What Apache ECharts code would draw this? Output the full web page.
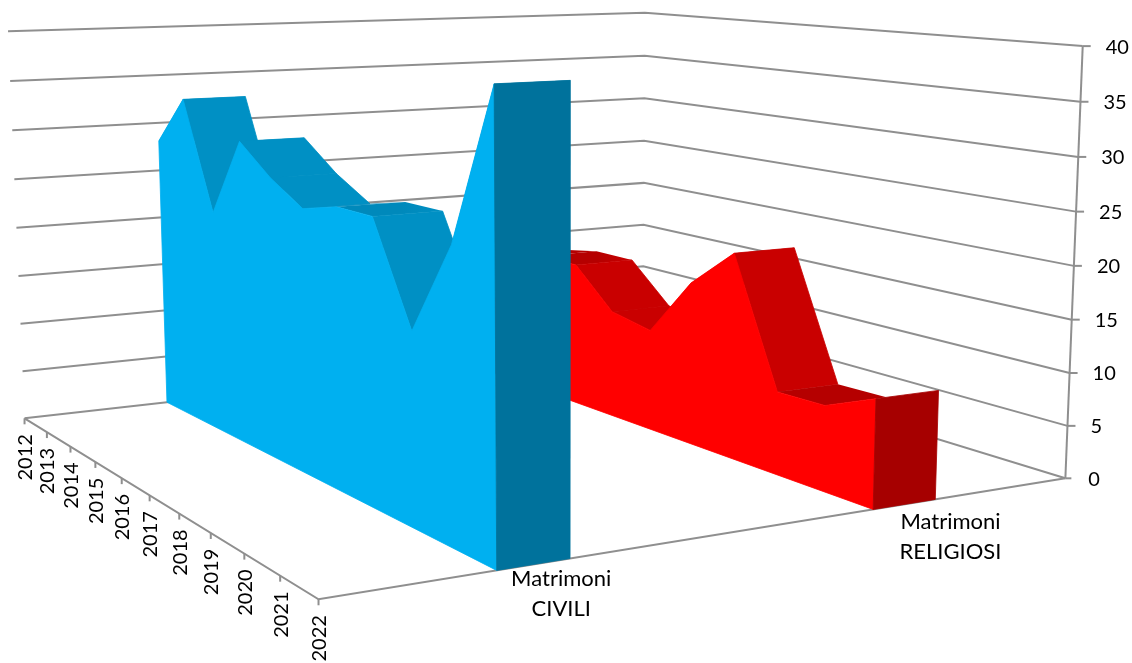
<!DOCTYPE html>
<html><head><meta charset="utf-8"><style>html,body{margin:0;padding:0;background:#fff}#c{width:1132px;height:663px}</style>
<script src="https://cdn.jsdelivr.net/npm/echarts@6/dist/echarts.min.js"></script></head>
<body><div id="c"></div>
<script>
const years = ['2012','2013','2014','2015','2016','2017','2018','2019','2020','2021','2022'];
const civili = [28.1,33.0,22.2,30.0,27.2,25.1,26.1,26.1,17.2,25.5,39.0];
const religiosi = [14.0,14.1,14.9,14.9,11.0,10.2,16.1,20.0,7.9,8.0,10.0];
const valueTicks = [0,5,10,15,20,25,30,35,40];
const seriesLabels = [['Matrimoni','CIVILI'],['Matrimoni','RELIGIOSI']];

// perspective camera of the 3D box: (year index, depth 0..1, value) -> page pixel
const m=[0.2113906,0.7170683,-0.01674253,0.02454604,0.02558568,-0.01603480,-0.3879937,0.4183149,-0.2592732,0.1538027,-0.02978897];
function project(t,s,v){const u=t/10,n=v/40,W=m[8]*u+m[9]*s+m[10]*n+1;
  return [1000*(m[0]*u+m[1]*s+m[2]*n+m[3])/W,1000*(m[4]*u+m[5]*s+m[6]*n+m[7])/W];}
const last=years.length-1;
const FONT='20px Lato, Carlito, sans-serif';
const FONT_BIG='22px Lato, Carlito, sans-serif';
const LINE={stroke:'#8f8f8f',lineWidth:2,fill:null};
const pt=(api,p)=>api.coord(p);
function poly(api,list,fill,edge){return {type:'polygon',shape:{points:list.map(p=>pt(api,p))},style:{fill:fill,stroke:edge||fill,lineWidth:0.8}};}
function line(api,list){return {type:'polyline',shape:{points:list.map(p=>pt(api,p))},style:LINE};}
function text(api,str,p,opt,font){const c=pt(api,p);return Object.assign({type:'text',x:c[0],y:c[1],style:{text:str,fill:'#000',font:font||FONT,align:'center',verticalAlign:'middle'}},opt||{});}

const base={type:'custom',coordinateSystem:'cartesian2d',silent:true,animation:false,clip:false,encode:{x:0,y:0}};

const walls=Object.assign({},base,{name:'griglia',z:1,data:valueTicks.map(v=>[v]),
  renderItem(params,api){const v=api.value(0);
    const a=project(last,1,v);
    return {type:'group',children:[
      line(api,[project(0,0,v),project(0,1,v),a]),
      line(api,[a,[a[0]+(v===0?6:8),a[1]]])]};}});
const valueAxis=Object.assign({},base,{name:'asse valori',z:2,data:[[0]],
  renderItem(params,api){return line(api,[project(last,1,0),project(last,1,valueTicks[valueTicks.length-1])]);}});
const valueLabels=Object.assign({},base,{name:'etichette valori',z:5,data:valueTicks.map(v=>[v]),
  renderItem(params,api){const v=api.value(0),a=project(last,1,v);
    return text(api,String(v),[a[0]+23,a[1]+1],{style:{text:String(v),fill:'#000',font:FONT,align:'left',verticalAlign:'middle'}});}});
const floor=Object.assign({},base,{name:'pavimento',z:2,data:[[0]],
  renderItem(params,api){return line(api,[project(0,0,0),project(last,0,0),project(last,1,0)]);}});
const yearAxis=Object.assign({},base,{name:'anni',z:5,data:years.map((y,i)=>[i]),
  renderItem(params,api){const i=api.value(0),a=project(i,0,0);
    return {type:'group',children:[
      line(api,[a,[a[0],a[1]+6]]),
      text(api,years[i],[a[0]+1,a[1]+39],{rotation:Math.PI/2})]};}});
const depthLabelPos=[[0.285,19],[0.82,25]];
const depthLabels=Object.assign({},base,{name:'etichette serie',z:5,data:seriesLabels.map((l,i)=>[i]),
  renderItem(params,api){const i=api.value(0),a=project(last,depthLabelPos[i][0],0),y=a[1]+depthLabelPos[i][1];
    return {type:'group',children:[
      text(api,seriesLabels[i][0],[a[0],y],null,FONT_BIG),
      text(api,seriesLabels[i][1],[a[0],y+29.5],null,FONT_BIG)]};}});

function area3d(name,values,s0,s1,col,z){
  const n=values.length;
  const tops=Object.assign({},base,{name:name+' superficie',z:z,data:values.slice(1).map((v,i)=>[i]),
    renderItem(params,api){const i=api.value(0),a=values[i],b=values[i+1];
      const flat=Math.abs(a-b)<0.5||b>a;
      const nextSteep=i+2<n&&values[i+2]<b-1;
      let fill=flat?col.flat:col.top;
      if(flat&&nextSteep)fill=new echarts.graphic.LinearGradient(0,0,1,0,[{offset:0,color:col.flat},{offset:0.62,color:col.flat},{offset:1,color:col.top}]);
      return poly(api,[project(i,s0,a),project(i+1,s0,b),project(i+1,s1,b),project(i,s1,a)],fill,flat?'rgba(0,0,0,0)':col.top);}});
  const front=Object.assign({},base,{name:name,z:z+0.1,data:[[0]],
    renderItem(params,api){const list=values.map((v,i)=>project(i,s0,v));
      list.push(project(n-1,s0,0),project(0,s0,0));return poly(api,list,col.front);}});
  const end=Object.assign({},base,{name:name+' fine',z:z+0.2,data:[[0]],
    renderItem(params,api){const v=values[n-1];
      return poly(api,[project(n-1,s0,v),project(n-1,s1,v),project(n-1,s1,0),project(n-1,s0,0)],col.end);}});
  return [tops,front,end];
}
const blue=area3d('Matrimoni CIVILI',civili,0.206,0.296,{front:'#00B0F0',top:'#0090C4',flat:'#0089BB',end:'#00729C'},4);
const red=area3d('Matrimoni RELIGIOSI',religiosi,0.705,0.797,{front:'#FF0000',top:'#C90000',flat:'#B50000',end:'#A60000'},3);

const chart=echarts.init(document.getElementById('c'),null,{renderer:'canvas'});
chart.setOption({
  animation:false,backgroundColor:'#fff',
  grid:{left:0,right:0,top:0,bottom:0},
  xAxis:{type:'value',min:0,max:1132,show:false},
  yAxis:{type:'value',min:0,max:663,inverse:true,show:false},
  series:[walls,floor,valueAxis].concat(red,blue,[yearAxis,valueLabels,depthLabels])
});
</script></body></html>
